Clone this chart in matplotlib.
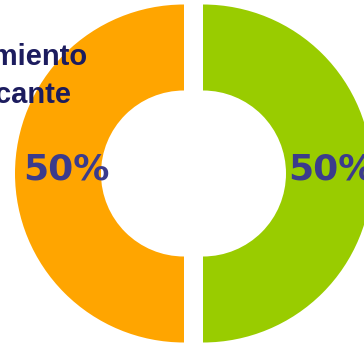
import matplotlib.pyplot as plt

# data
labels = ['Crecimiento', 'Significante']
values = [50, 50]
colors = ['#FFA500', '#99CC00']
pct_pos = [0.695, 0.76]

fig = plt.figure(figsize=(3.64, 3.46), dpi=100)
ax = fig.add_axes([0, 0, 1, 1])

wedges, texts = ax.pie(values, colors=colors, startangle=90, radius=169,
                       center=(193.5, 172.5), explode=[9.5, 9.5],
                       wedgeprops=dict(width=86, linewidth=0))

for w, p in zip(wedges, pct_pos):
    cx, cy = w.center
    side = -1 if cx < 193.5 else 1
    ax.text(cx + side * 169 * p, 176, '50%', ha='center', va='center',
            fontsize=26, fontweight='bold', color='#3B3B8C',
            family='DejaVu Sans')

ax.set_xlim(0, 364)
ax.set_ylim(0, 346)
ax.set_aspect('auto')
ax.axis('off')

# title text, partly outside the figure
ax.text(88, 281, labels[0], ha='right', va='baseline', fontsize=21,
        fontweight='bold', color='#1C1C5E', family='Liberation Sans')
ax.text(72, 243, labels[1].lower(), ha='right', va='baseline', fontsize=21,
        fontweight='bold', color='#1C1C5E', family='Liberation Sans')

fig.savefig('out.png', dpi=100)
